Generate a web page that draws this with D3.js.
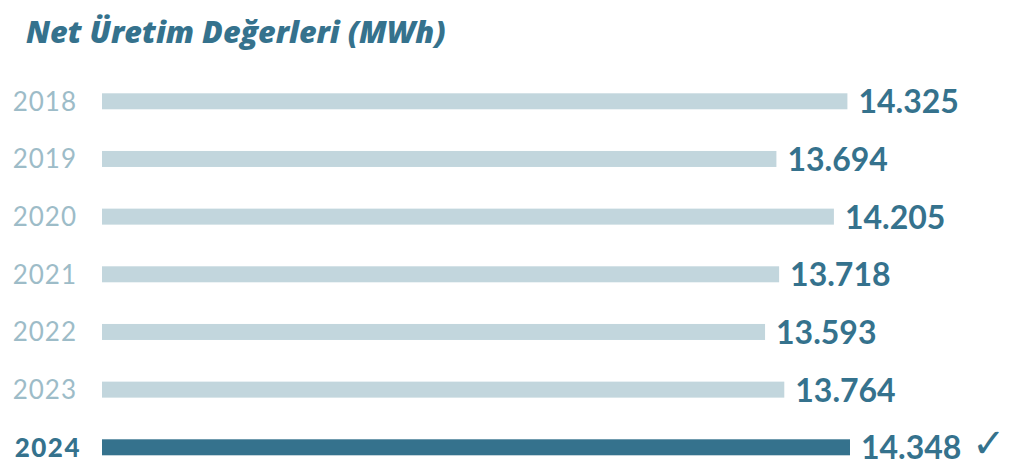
<!DOCTYPE html>
<html>
<head>
<meta charset="utf-8">
<script src="https://cdn.jsdelivr.net/npm/d3@7"></script>
<style>
  html, body { margin: 0; padding: 0; background: #ffffff; }
  svg { display: block; }
</style>
</head>
<body>
<svg id="chart" width="1016" height="470"></svg>
<script>
const title = "Net Üretim Değerleri (MWh)";
const years = ["2018", "2019", "2020", "2021", "2022", "2023", "2024"];
const values = [14.325, 13.694, 14.205, 13.718, 13.593, 13.764, 14.348];
const valueLabels = ["14.325", "13.694", "14.205", "13.718", "13.593", "13.764", "14.348"];
const highlightYear = "2024";

const svg = d3.select("#chart");
const dark = "#35728d";
const light = "#c2d6dd";
const yearGrey = "#9dbcc8";

const x = d3.scaleLinear().domain([7.7, 14.348]).range([102, 850]);
const y = d3.scalePoint().domain(years).range([101.3, 447.3]);
const barH = 16;

svg.append("text")
  .attr("x", 26).attr("y", 42.5)
  .attr("font-family", "'Open Sans', sans-serif")
  .attr("font-weight", 800)
  .attr("font-style", "italic")
  .attr("font-size", 30.5)
  .attr("fill", dark)
  .text(title);

const data = years.map((yr, i) => ({ year: yr, value: values[i], label: valueLabels[i] }));

const g = svg.append("g");

g.selectAll("rect.bar").data(data).join("rect")
  .attr("class", "bar")
  .attr("x", x.range()[0])
  .attr("y", d => y(d.year) - barH / 2)
  .attr("width", d => x(d.value) - x.range()[0])
  .attr("height", barH)
  .attr("fill", d => d.year === highlightYear ? dark : light);

g.selectAll("text.year").data(data).join("text")
  .attr("class", "year")
  .attr("x", d => d.year === highlightYear ? 81 : 77)
  .attr("y", d => y(d.year) + 9.5)
  .attr("text-anchor", "end")
  .attr("font-family", "Lato, sans-serif")
  .attr("font-weight", d => d.year === highlightYear ? 900 : 400)
  .attr("font-size", 26)
  .attr("letter-spacing", d => d.year === highlightYear ? 1.5 : 1)
  .attr("fill", d => d.year === highlightYear ? dark : yearGrey)
  .text(d => d.year);

g.selectAll("text.val").data(data).join("text")
  .attr("class", "val")
  .attr("x", d => x(d.value) + 11)
  .attr("y", d => y(d.year) + 12)
  .attr("font-family", "Lato, sans-serif")
  .attr("font-weight", 700)
  .attr("font-size", 32)
  .attr("fill", dark)
  .text(d => d.label)
  .each(function(d) {
    if (d.year === highlightYear) {
      const bb = this.getBBox();
      g.append("text")
        .attr("x", bb.x + bb.width + 11)
        .attr("y", y(d.year) + 10)
        .attr("font-family", "DejaVu Sans, sans-serif")
        .attr("font-size", 40)
        .attr("font-weight", 300)
        .attr("fill", dark)
        .text("✓");
    }
  });
</script>
</body>
</html>
